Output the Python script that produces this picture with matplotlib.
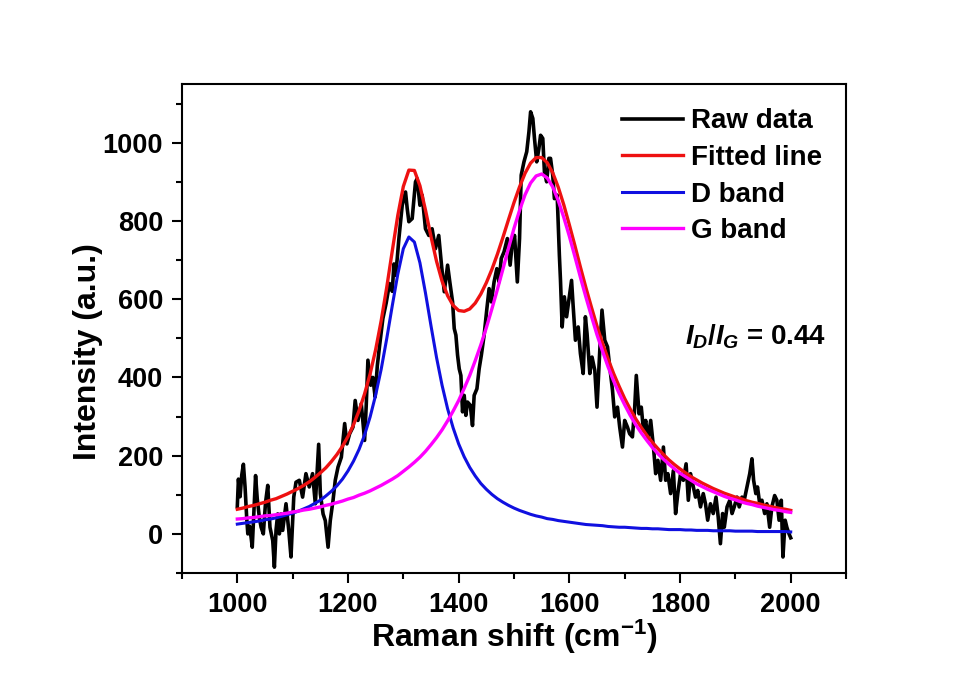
import numpy as np
import matplotlib
matplotlib.use('Agg')
import matplotlib.pyplot as plt

# raw Raman spectrum
x_raw = [1000, 1002, 1005, 1008, 1011, 1014, 1017, 1019, 1022, 1025, 1027, 1030,
         1033, 1036, 1040, 1043, 1047, 1051, 1055, 1059, 1064, 1067, 1070, 1073,
         1076, 1079, 1082, 1088, 1093, 1097, 1102, 1106, 1112, 1118, 1124, 1130,
         1136, 1141, 1147, 1150, 1155, 1159, 1164, 1168, 1173, 1177, 1182, 1188,
         1194, 1198, 1203, 1209, 1213, 1218, 1224, 1230, 1233, 1236, 1241, 1245,
         1249, 1253, 1257, 1263, 1269, 1275, 1280, 1283, 1286, 1289, 1292, 1298,
         1304, 1307, 1310, 1316, 1322, 1325, 1330, 1334, 1340, 1346, 1352, 1358,
         1364, 1369, 1374, 1380, 1384, 1389, 1392, 1395, 1398, 1401, 1404, 1407,
         1410, 1413, 1416, 1421, 1425, 1428, 1433, 1437, 1441, 1446, 1451, 1455,
         1459, 1464, 1469, 1473, 1477, 1482, 1488, 1493, 1497, 1501, 1506, 1510,
         1513, 1518, 1523, 1527, 1530, 1534, 1537, 1541, 1545, 1548, 1552, 1555,
         1559, 1563, 1566, 1570, 1573, 1578, 1582, 1584, 1587, 1591, 1595, 1599,
         1604, 1607, 1611, 1616, 1620, 1625, 1629, 1632, 1637, 1641, 1646, 1650,
         1655, 1659, 1664, 1669, 1673, 1678, 1682, 1687, 1691, 1696, 1700, 1705,
         1709, 1714, 1718, 1721, 1726, 1730, 1734, 1738, 1742, 1747, 1752, 1756,
         1760, 1765, 1770, 1774, 1778, 1783, 1788, 1792, 1796, 1801, 1806, 1811,
         1815, 1819, 1824, 1828, 1832, 1837, 1842, 1846, 1850, 1855, 1860, 1865,
         1869, 1873, 1877, 1880, 1885, 1890, 1894, 1898, 1903, 1907, 1912, 1916,
         1921, 1926, 1930, 1933, 1937, 1940, 1944, 1948, 1953, 1957, 1962, 1966,
         1971, 1975, 1979, 1983, 1986, 1990, 1993, 1997, 2000]
y_raw = [70, 140, 95, 150, 178, 120, 40, 0, 20, -10, -34, 60,
         149, 90, 40, 17, 0, 80, 124, 17, -17, -85, 10, 51,
         0, 51, 9, 77, 9, -59, 94, 132, 137, 94, 154, 120,
         154, 77, 229, 103, 51, 34, -34, 34, 86, 137, 171, 196,
         282, 230, 256, 273, 341, 290, 333, 239, 330, 444, 380, 400,
         350, 430, 480, 550, 590, 640, 620, 690, 661, 704, 755, 840,
         874, 832, 798, 806, 900, 908, 840, 866, 780, 763, 780, 729,
         763, 687, 619, 687, 644, 593, 525, 508, 457, 422, 405, 312,
         354, 303, 337, 329, 277, 354, 371, 422, 457, 508, 576, 627,
         593, 644, 678, 644, 704, 721, 755, 687, 746, 763, 644, 755,
         917, 951, 977, 1028, 1079, 1062, 1011, 951, 985, 1019, 1011, 925,
         900, 960, 960, 917, 857, 866, 712, 648, 529, 606, 555, 597,
         648, 580, 495, 529, 461, 410, 555, 512, 410, 452, 418, 324,
         469, 572, 495, 478, 427, 367, 299, 324, 273, 222, 290, 273,
         256, 248, 320, 405, 307, 324, 265, 290, 239, 290, 222, 154,
         188, 137, 222, 137, 154, 103, 162, 52, 103, 154, 137, 179,
         86, 154, 120, 94, 111, 69, 103, 77, 35, 77, 52, 94,
         43, -25, 52, 17, 69, 86, 52, 69, 94, 69, 94, 86,
         120, 154, 192, 137, 103, 120, 77, 86, 52, 77, 17, 69,
         98, 86, 35, 86, -59, 35, 17, 0, -10]

# fitted curves, sampled every 10 cm-1 from 1000 to 2000
x_fit = np.arange(1000, 2001, 10)
fitted = [63, 66, 70, 73, 77, 81, 86, 90, 96, 102, 109, 116, 124, 133, 144, 156, 169,
          185, 203, 224, 249, 279, 315, 358, 409, 471, 545, 630, 723, 814, 888, 930,
          929, 890, 828, 760, 697, 646, 609, 584, 571, 569, 575, 590, 613, 642, 676,
          715, 758, 803, 847, 887, 922, 948, 962, 962, 949, 923, 886, 841, 790, 737,
          682, 629, 579, 531, 487, 447, 410, 377, 346, 319, 294, 272, 252, 234, 218,
          203, 189, 177, 166, 156, 146, 138, 130, 123, 116, 110, 104, 99, 94, 90, 85,
          81, 78, 74, 71, 68, 65, 63, 60]
d_band = [25, 27, 29, 31, 33, 36, 38, 41, 45, 49, 53, 58, 64, 70, 78, 86, 97, 109,
          123, 140, 161, 186, 216, 253, 299, 355, 421, 499, 583, 664, 729, 759, 746,
          693, 616, 532, 451, 380, 320, 271, 230, 197, 170, 148, 129, 114, 101, 90,
          81, 73, 66, 60, 55, 50, 46, 43, 39, 37, 34, 32, 30, 28, 26, 24, 23, 22, 21,
          19, 18, 17, 17, 16, 15, 14, 14, 13, 13, 12, 11, 11, 11, 10, 10, 9, 9, 9, 8,
          8, 8, 8, 7, 7, 7, 7, 6, 6, 6, 6, 6, 6, 5]
g_band = [38, 39, 41, 42, 44, 46, 47, 49, 51, 53, 56, 58, 61, 63, 66, 69, 73, 76, 80,
          84, 89, 93, 99, 104, 110, 117, 124, 132, 140, 149, 160, 171, 183, 196, 211,
          228, 246, 266, 289, 314, 341, 372, 405, 443, 483, 527, 575, 625, 677, 730,
          781, 827, 867, 897, 915, 920, 910, 887, 852, 809, 761, 709, 656, 605, 556,
          509, 467, 427, 391, 359, 330, 303, 279, 258, 239, 221, 205, 191, 178, 166,
          155, 146, 137, 128, 121, 114, 108, 102, 96, 91, 87, 82, 78, 75, 71, 68, 65,
          62, 60, 57, 55]

plt.rcParams['font.family'] = ['Liberation Sans', 'DejaVu Sans']
plt.rcParams['font.weight'] = 'bold'
plt.rcParams['mathtext.fontset'] = 'custom'
plt.rcParams['mathtext.rm'] = 'Liberation Sans:bold'
plt.rcParams['mathtext.bf'] = 'Liberation Sans:bold'
plt.rcParams['mathtext.it'] = 'Liberation Sans:bold:italic'

fig = plt.figure(figsize=(9.7, 6.77), dpi=100)
ax = fig.add_axes([0.1876, 0.1536, 0.6846, 0.7223])

ax.plot(x_raw, y_raw, color='black', lw=2.6, label='Raw data')
ax.plot(x_fit, fitted, color='#ee1111', lw=2.4, label='Fitted line')
ax.plot(x_fit, d_band, color='#1010e0', lw=2.2, label='D band')
ax.plot(x_fit, g_band, color='#ff00ff', lw=2.4, label='G band')

ax.set_xlim(900, 2100)
ax.set_ylim(-100, 1150)
ax.set_xticks(np.arange(1000, 2001, 200))
ax.set_xticks(np.arange(900, 2101, 100), minor=True)
ax.set_yticks(np.arange(0, 1001, 200))
ax.set_yticks(np.arange(-100, 1101, 100), minor=True)
ax.tick_params(which='both', direction='out', width=1.5, top=False, right=False)
ax.tick_params(which='major', length=7.5, labelsize=19.5, pad=6)
ax.tick_params(which='minor', length=4)
for sp in ax.spines.values():
    sp.set_linewidth(1.5)

ax.set_xlabel(r'Raman shift (cm$^{\mathbf{-1}}$)', fontsize=23, fontweight='bold')
ax.set_ylabel('Intensity (a.u.)', fontsize=23, fontweight='bold')
ax.xaxis.label.set_va('center')
ax.yaxis.label.set_va('center')
ax.xaxis.set_label_coords(0.5, -0.131)
ax.yaxis.set_label_coords(-0.1416, 0.452)

ax.legend(loc='upper left', bbox_to_anchor=(0.6627, 0.950), frameon=False,
          fontsize=20, handlelength=2.2, handletextpad=0.3, labelspacing=0.38,
          borderpad=0, borderaxespad=0)

ax.text(1809, 503, r'$I_D/I_G$ = 0.44', fontsize=20, fontweight='bold',
        ha='left', va='center')

fig.savefig('out.png')
